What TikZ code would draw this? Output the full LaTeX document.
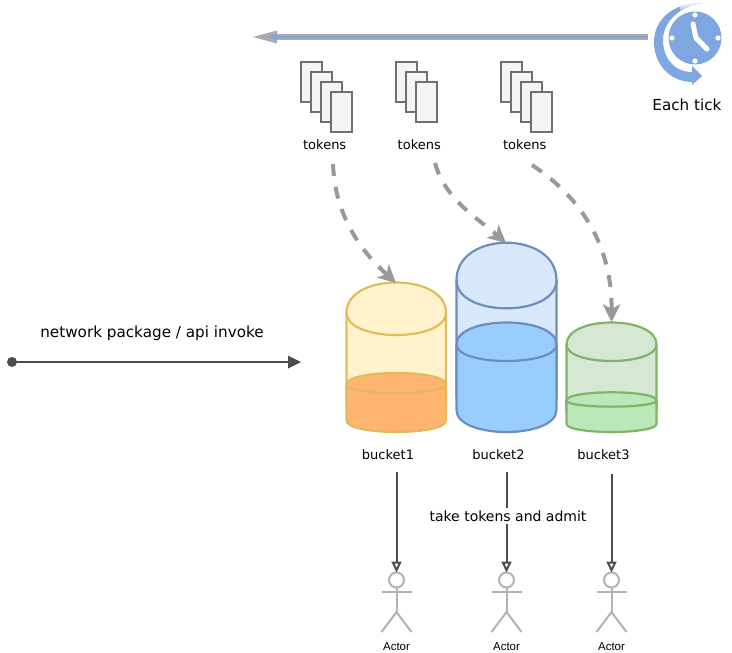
\documentclass[tikz,border=0pt]{standalone}
\usepackage{fontspec}
\setmainfont{DejaVu Sans}
\newfontfamily\actorfont{Liberation Sans}
\usetikzlibrary{arrows.meta}
\definecolor{clockblue}{HTML}{7EA6E0}
\definecolor{docfill}{HTML}{F5F5F5}
\definecolor{docline}{HTML}{707070}
\definecolor{darkline}{HTML}{4D4D4D}
\definecolor{dashgray}{HTML}{999999}
\definecolor{actorgray}{HTML}{B3B3B3}
\definecolor{tickgray}{HTML}{ABABAB}
\definecolor{yfill}{HTML}{FFF2CC}
\definecolor{yline}{HTML}{E0BC5C}
\definecolor{ofill}{HTML}{FFB570}
\definecolor{bfill}{HTML}{DAE8FC}
\definecolor{bline}{HTML}{6C8EBF}
\definecolor{b2fill}{HTML}{99CCFF}
\definecolor{gfill}{HTML}{D5E8D4}
\definecolor{gline}{HTML}{82B366}
\definecolor{g2fill}{HTML}{B9E8B9}
\newcommand{\bucketcyl}[6]{% x, w, top, dy, bottom, style
  \pgfmathsetmacro{\xr}{#1+#2}
  \pgfmathsetmacro{\ys}{#3+#4}
  \pgfmathsetmacro{\yc}{#3-#4/3}
  \pgfmathsetmacro{\yl}{#3+2*#4}
  \pgfmathsetmacro{\yb}{#5-#4}
  \pgfmathsetmacro{\ybc}{#5+#4/3}
  \draw[#6] (#1,\ys) .. controls (#1,\yc) and (\xr,\yc) .. (\xr,\ys)
    -- (\xr,\yb) .. controls (\xr,\ybc) and (#1,\ybc) .. (#1,\yb) -- cycle;
  \draw[#6,fill=none] (#1,\ys) .. controls (#1,\yl) and (\xr,\yl) .. (\xr,\ys);
}
\newcommand{\docstack}[3]{% x, y, count
  \foreach \i in {1,...,#3}{
    \node[docbox] (doc#1-\i) at ({#1+10+(\i-1)*10},{#2+20+(\i-1)*10}) {};
  }
}
\newcommand{\actorman}[2]{% x, name
  \node[actorhead] (#2) at (#1,580) {};
  \draw[actorline] (#2.south) -- (#1,612);
  \draw[actorline] (#1-15,592) -- (#1+15,592);
  \draw[actorline] (#1-15,632) -- (#1,612) -- (#1+15,632);
  \node[actorlabel] (#2label) at (#1,646.5) {Actor};
}
\tikzset{
  lbl/.style={font=\fontsize{13}{15}\selectfont,inner sep=0pt},
  lblbig/.style={font=\fontsize{14}{16}\selectfont,inner sep=0pt},
  lblhuge/.style={font=\fontsize{15.2}{17}\selectfont,inner sep=0pt},
  docbox/.style={draw=docline,fill=docfill,line width=2pt,minimum width=21pt,minimum height=40pt,inner sep=0pt,outer sep=0pt},
  actorhead/.style={circle,draw=actorgray,line width=2pt,minimum size=15pt,inner sep=0pt,outer sep=0pt},
  actorline/.style={draw=actorgray,line width=2pt},
  actorlabel/.style={font=\actorfont\fontsize{11.5}{13}\selectfont,inner sep=0pt},
  flow/.style={draw=dashgray,line width=4pt,dash pattern=on 12pt off 11pt,-{Stealth[length=18pt,width=18pt,inset=5pt,fill=dashgray,line width=0pt]}},
  admit/.style={draw=darkline,line width=2pt,-{Triangle[length=11pt,width=10pt,fill=white,line width=2pt]}},
  tank/.style={line width=2.2pt},
}
\begin{document}
\begin{tikzpicture}[x=1pt,y=-1pt]
\useasboundingbox (0,0) rectangle (732,653);
% tick arrow
\coordinate (tickstart) at (648,37);
\coordinate (tickend) at (253,37);
\draw[draw=tickgray,line width=6.5pt,-{Triangle[length=24pt,width=13pt,fill=tickgray,line width=0pt,sep=0pt]}] (tickstart) -- (tickend);
\draw[draw=clockblue,line width=1.5pt] (tickstart) -- (270,37);
\fill[clockblue] (277,34) -- (266,37) -- (277,40) -- cycle;
% clock
\fill[clockblue] (695,38) circle (26.5);
\fill[white] (695,15) circle (2.6) (718,38) circle (2.6) (695,61) circle (2.6) (672,38) circle (2.6);
\draw[white,line width=5pt,line cap=round,line join=round] (693,24) -- (696,38) -- (707,49);
\def\swoosh{(702,3) .. controls (672,3) and (654,20) .. (654,42) .. controls (654,66) and (672,82) .. (692,82)
  -- (692,85) -- (702,76) -- (692,66) -- (692,72) .. controls (674,72) and (663,58) .. (663,40) .. controls (663,22) and (680,6) .. (702,3) -- cycle}
\fill[clockblue] \swoosh;
\begin{scope}
  \clip \swoosh;
  \shade[top color=white,bottom color=clockblue] (680,2) rectangle (706,14);
\end{scope}
\node[lblhuge] (tick) at (687,105) {Each tick};
% token stacks
\docstack{301}{62}{4}
\docstack{396}{62}{3}
\docstack{501}{62}{4}
\node[lbl] (tok1) at (324.7,145) {tokens};
\node[lbl] (tok2) at (419.3,145) {tokens};
\node[lbl] (tok3) at (524.7,145) {tokens};
% network
\node[circle,fill=darkline,minimum size=10pt,inner sep=0pt] (src) at (12,362) {};
\coordinate (netend) at (301,362);
\draw[draw=darkline,line width=2.4pt,-{Triangle[length=13pt,width=13pt,fill=darkline,line width=0pt]}] (src) -- (netend);
\node[lblhuge] (net) at (152,333) {network package / api invoke};
% buckets
\bucketcyl{346.5}{99.5}{282.5}{30}{432}{tank,draw=yline,fill=yfill}
\bucketcyl{346.5}{99.5}{373}{11.5}{432}{tank,draw=yline,fill=ofill}
\bucketcyl{456.5}{100}{242.7}{37.5}{432}{tank,draw=bline,fill=bfill}
\bucketcyl{456.5}{100}{322.5}{22}{432}{tank,draw=bline,fill=b2fill}
\bucketcyl{566.5}{90}{322.5}{22}{432}{tank,draw=gline,fill=gfill}
\bucketcyl{566.5}{90}{392.3}{8.2}{432}{tank,draw=gline,fill=g2fill}
\coordinate (top1) at (396,283);
\coordinate (top2) at (506,243);
\coordinate (top3) at (611.5,322);
\node[lbl] (b1) at (388,455) {bucket1};
\node[lbl] (b2) at (498.5,455) {bucket2};
\node[lbl] (b3) at (603.5,455) {bucket3};
% dashed flows
\coordinate (from1) at (333,164);
\coordinate (from2) at (435,163);
\coordinate (from3) at (532,165);
\draw[flow] (from1) .. controls (335,215) and (360,250) .. (top1);
\draw[flow] (from2) .. controls (445,200) and (480,220) .. (top2);
\draw[flow] (from3) .. controls (585,200) and (612,250) .. (top3);
% actors
\actorman{396.5}{a1}
\actorman{506.5}{a2}
\actorman{611.5}{a3}
\coordinate (out1) at (396.5,472);
\coordinate (out2) at (506.5,472);
\coordinate (out3) at (611.5,474);
\draw[admit] (out1) -- (a1.north);
\draw[admit] (out2) -- (a2.north);
\draw[admit] (out3) -- (a3.north);
\node[lblbig,fill=white,inner ysep=3pt,inner xsep=0pt] (take) at (508,516) {take tokens and admit};
\end{tikzpicture}
\end{document}
